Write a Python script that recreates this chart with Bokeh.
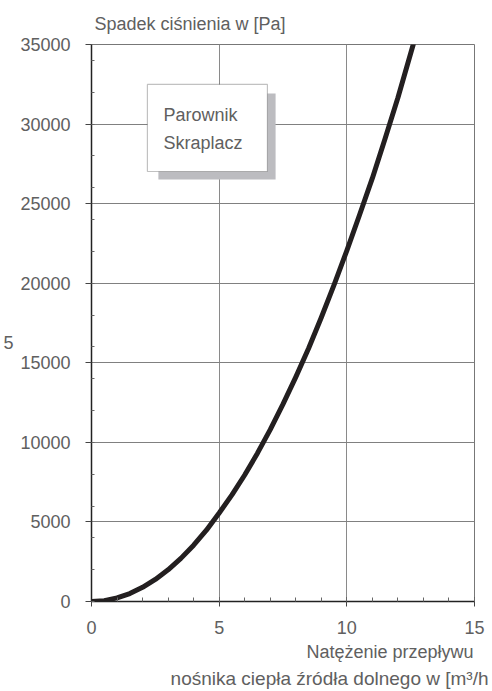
from bokeh.plotting import figure
from bokeh.models import FixedTicker, Label, BoxAnnotation, Title, LinearAxis
from bokeh.embed import file_html
from bokeh.resources import INLINE

# Data
flow = [0, 0.5, 1, 1.5, 2, 2.5, 3, 3.5, 4, 4.5, 5, 5.5, 6, 6.5, 7, 7.5, 8, 8.5,
        9, 9.5, 10, 10.5, 11, 11.5, 12, 12.6]
pressure_drop = [0, 55, 225, 500, 890, 1390, 1990, 2710, 3540, 4480, 5560, 6700,
                 7950, 9320, 10800, 12400, 14100, 15900, 17850, 19900, 22050,
                 24300, 26600, 29100, 31650, 35000]

x_major = [0, 5, 10, 15]
x_minor = list(range(0, 16))
y_major = [0, 5000, 10000, 15000, 20000, 25000, 30000, 35000]
y_minor = list(range(0, 36000, 2000))

title_text = "Spadek ciśnienia w [Pa]"
legend_lines = ["Parownik", "Skraplacz"]
xlabel_lines = ["Natężenie przepływu", "nośnika ciepła źródła dolnego w [m³/h"]
fragment_text = "5"
fragment_at = 16300

FONT = "Liberation Sans"
TXT = "#606060"

p = figure(frame_width=383, frame_height=557, x_range=(0, 15), y_range=(0, 35000),
           output_backend="svg", toolbar_location=None,
           min_border_left=91, min_border_right=18, min_border_top=44, min_border_bottom=90)
p.background_fill_color = "white"
p.border_fill_color = "white"
p.outline_line_color = "#777777"
p.outline_line_width = 1

p.xaxis.ticker = FixedTicker(ticks=x_major, minor_ticks=x_minor)
p.yaxis.ticker = FixedTicker(ticks=y_major, minor_ticks=y_minor)

for ax in (p.xaxis, p.yaxis):
    ax.axis_line_color = "#222222"
    ax.axis_line_width = 1.5
    ax.major_tick_line_color = "#444444"
    ax.minor_tick_line_color = "#666666"
    ax.major_label_text_font = FONT
    ax.major_label_text_font_size = "18px"
    ax.major_label_text_color = TXT

p.xaxis.major_tick_out = 5
p.xaxis.major_tick_in = 4
p.xaxis.minor_tick_in = 4
p.xaxis.minor_tick_out = 0
p.xaxis.major_label_standoff = 14

p.yaxis.major_tick_out = 6
p.yaxis.major_tick_in = 0
p.yaxis.minor_tick_in = 3
p.yaxis.minor_tick_out = 0
p.yaxis.major_label_standoff = 15

# fragment "5" at the far left, as an outer left axis with a single label
frag = LinearAxis(ticker=FixedTicker(ticks=[fragment_at], minor_ticks=[]),
                  major_label_overrides={fragment_at: fragment_text},
                  axis_line_color=None, major_tick_line_color=None,
                  minor_tick_line_color=None, major_tick_out=0, major_tick_in=0,
                  major_label_standoff=4, major_label_text_font=FONT,
                  major_label_text_font_size="18px", major_label_text_color=TXT)
p.add_layout(frag, "left")

p.xgrid.ticker = FixedTicker(ticks=x_major)
p.ygrid.ticker = FixedTicker(ticks=y_major)
p.xgrid.grid_line_color = "#8a8a8a"
p.ygrid.grid_line_color = "#808080"
p.xgrid.grid_line_width = 1
p.ygrid.grid_line_width = 1

p.line(flow, pressure_drop, line_width=5, line_color="#231f20", line_join="round", line_cap="round")

# legend box with shadow
p.add_layout(BoxAnnotation(left=2.62, right=7.21, top=31920, bottom=26520,
                           fill_color="#bcbcc0", fill_alpha=1, line_alpha=0))
p.add_layout(BoxAnnotation(left=2.19, right=6.89, top=32490, bottom=27020,
                           fill_color="white", fill_alpha=1, line_color="#333333", line_width=1.2))
for txt, yy in zip(legend_lines, [30600, 28840]):
    p.add_layout(Label(x=2.82, y=yy, text=txt, text_font=FONT, text_font_size="18px",
                       text_color=TXT, text_baseline="alphabetic", text_align="left"))

# title
p.title.text = title_text
p.title.align = "left"
p.title.offset = 3
p.title.text_font = FONT
p.title.text_font_size = "18px"
p.title.text_font_style = "normal"
p.title.text_color = TXT
p.title.standoff = 22

# x axis label (two lines, right aligned) as below titles
t1 = Title(text=xlabel_lines[0], align="right", offset=1, text_font=FONT,
           text_font_size="18px", text_font_style="normal", text_color=TXT, standoff=6)
t2 = Title(text=xlabel_lines[1], align="right", offset=-14, text_font=FONT,
           text_font_size="19px", text_font_style="normal", text_color=TXT, standoff=2)
p.add_layout(t1, "below")
p.add_layout(t2, "below")

open("out.html", "w").write(file_html(p, INLINE))
